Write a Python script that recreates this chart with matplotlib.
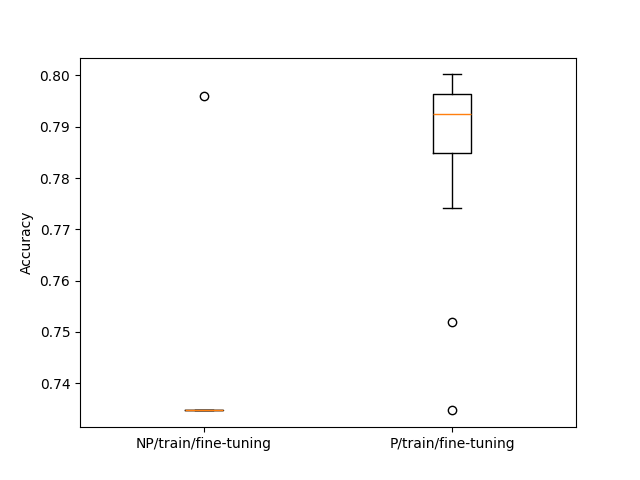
import matplotlib
matplotlib.use("Agg")
import matplotlib.pyplot as plt

labels = ["NP/train/fine-tuning", "P/train/fine-tuning"]

np_acc = [0.7347] * 12 + [0.7959]
p_acc = [
    0.7347, 0.7519, 0.7741, 0.7848, 0.7880, 0.7905, 0.7924,
    0.7937, 0.7952, 0.7964, 0.7978, 0.7990, 0.8002,
]


def main():
    fig, ax = plt.subplots(figsize=(6.4, 4.8), dpi=100)
    ax.boxplot([np_acc, p_acc])
    ax.set_xticks([1, 2])
    ax.set_xticklabels(labels)
    ax.set_ylabel("Accuracy")
    fig.savefig("out.png")


if __name__ == "__main__":
    main()
